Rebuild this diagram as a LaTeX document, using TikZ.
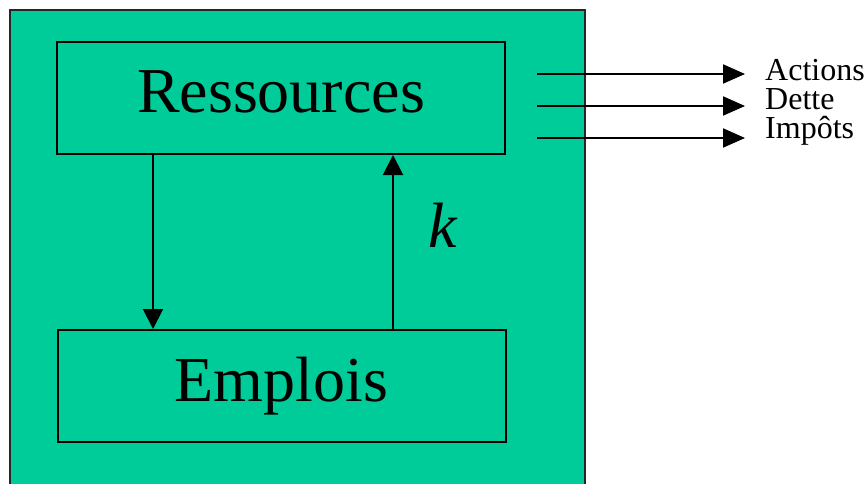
\documentclass[tikz,border=0pt]{standalone}
\usepackage{fontspec}
\setmainfont{Liberation Serif}
\usetikzlibrary{arrows.meta}
\definecolor{panelgreen}{RGB}{0,204,153}
\tikzset{
  box/.style={draw=black, line width=2pt, fill=panelgreen, minimum width=448pt, minimum height=112pt, inner sep=0pt, text height=44pt, text depth=14pt, font=\fontsize{64}{64}\selectfont},
  flow/.style={line width=2pt, -{Triangle[length=20pt,width=20pt]}},
  outflow/.style={line width=2pt, -{Triangle[length=22pt,width=19pt]}},
  lab/.style={inner sep=0pt, anchor=base west, font=\fontsize{32}{32}\selectfont}
}
\begin{document}
\begin{tikzpicture}[x=1pt,y=-1pt]
  \useasboundingbox (0,0) rectangle (867,484);
  \clip (0,0) rectangle (867,484);
  % outer panel, running past the lower edge
  \draw[line width=2pt, draw=black!85, fill=panelgreen] (10,10) rectangle (585,520);
  % the two blocks
  \node[box] (res) at (281,98) {Ressources};
  \node[box] (emp) at (281.5,386) {Emplois};
  % vertical flows
  \coordinate (dx) at (153,0);
  \coordinate (ux) at (393,0);
  \draw[flow] (res.south -| dx) -- (emp.north -| dx);
  \draw[flow] (emp.north -| ux) -- (res.south -| ux);
  \node[inner sep=0pt, anchor=base west, font=\fontsize{64}{64}\selectfont\itshape] (k) at (428,247) {k};
  % outgoing flows
  \node[lab] (l1) at (765,81) {Actions};
  \node[lab] (l2) at (765,110) {Dette};
  \node[lab] (l3) at (765,139) {Impôts};
  \coordinate (s1) at (537,74);  \coordinate (e1) at (745,74);
  \coordinate (s2) at (537,106); \coordinate (e2) at (745,106);
  \coordinate (s3) at (537,138); \coordinate (e3) at (745,138);
  \draw[outflow] (s1) -- (e1);
  \draw[outflow] (s2) -- (e2);
  \draw[outflow] (s3) -- (e3);
\end{tikzpicture}
\end{document}
